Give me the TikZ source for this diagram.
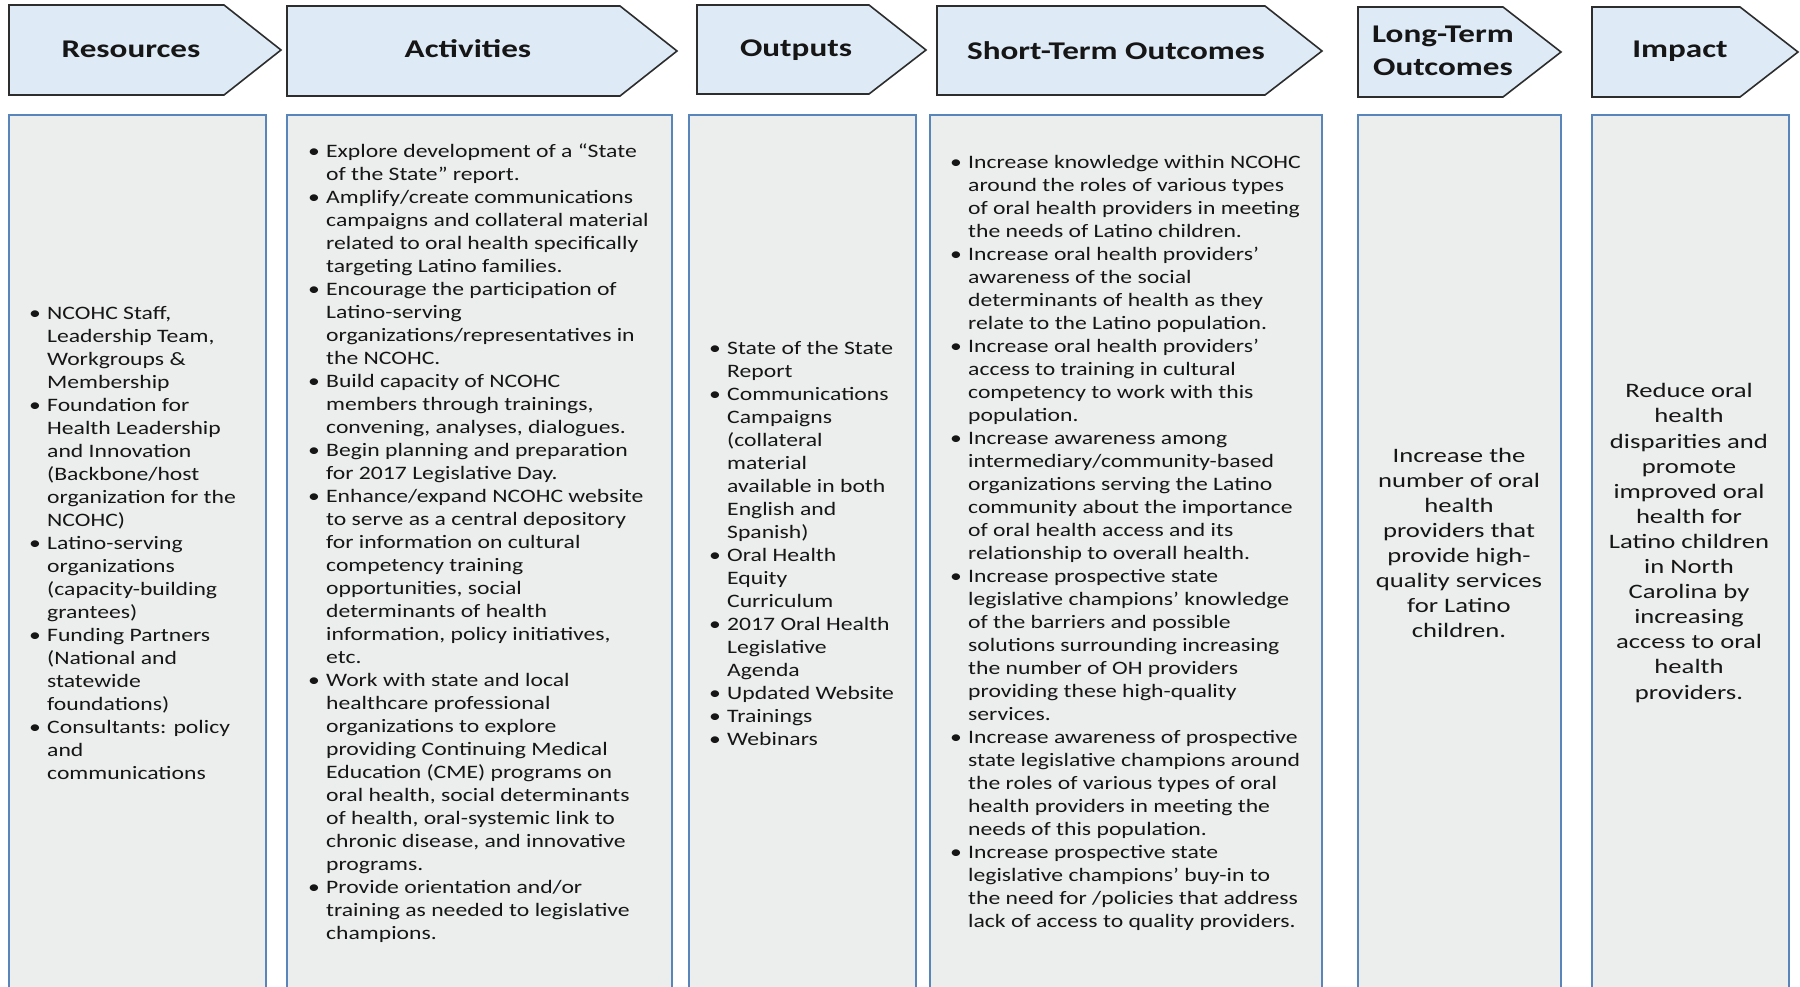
\documentclass[tikz,border=0pt]{standalone}
\usepackage{fontspec}
\setmainfont[FakeStretch=1.245]{Carlito}
\newfontfamily\widefont[FakeStretch=1.3]{Carlito}
\definecolor{hdrfill}{RGB}{222,235,247}
\definecolor{hdrdraw}{RGB}{45,45,45}
\definecolor{boxfill}{RGB}{236,237,237}
\definecolor{boxdraw}{RGB}{88,134,186}
\definecolor{txt}{RGB}{22,22,22}
\newcommand\bitem{\makebox[18pt][l]{\textbullet}}
\newcommand\cont{\hspace*{18pt}}
\tikzset{
  hdr/.style={fill=hdrfill, draw=hdrdraw, line width=1.6pt, line join=miter},
  cbox/.style={fill=boxfill, draw=boxdraw, line width=1.4pt},
  htext/.style={font=\widefont\fontsize{25.5}{33}\selectfont\bfseries, text=txt, inner sep=0pt, align=center},
  btext/.style={font=\fontsize{19}{23}\selectfont, text=txt, inner sep=0pt, align=left, anchor=west},
  ctext/.style={font=\widefont\fontsize{20.5}{25.1}\selectfont, text=txt, inner sep=0pt, align=center}
}
\begin{document}
\begin{tikzpicture}[x=1pt,y=-1pt]
\useasboundingbox (0,0) rectangle (1800,987);
\clip (0,0) rectangle (1800,987);
\fill[white] (0,0) rectangle (1800,987);
% header arrows
\draw[hdr] (9,5) -- (224,5) -- (281,50) -- (224,95) -- (9,95) -- cycle;
\draw[hdr] (287,6) -- (620,6) -- (677,51) -- (620,96) -- (287,96) -- cycle;
\draw[hdr] (697,5) -- (869,5) -- (926,50) -- (869,94) -- (697,94) -- cycle;
\draw[hdr] (937,6) -- (1265,6) -- (1322,51) -- (1265,95) -- (937,95) -- cycle;
\draw[hdr] (1358,7) -- (1503,7) -- (1561,52) -- (1503,97) -- (1358,97) -- cycle;
\draw[hdr] (1592,7) -- (1740,7) -- (1798,52) -- (1740,97) -- (1592,97) -- cycle;
\node[htext] (hRes) at (131,49) {Resources};
\node[htext] (hAct) at (468,49) {Activities};
\node[htext] (hOut) at (796,50) {Outputs};
\node[htext] (hShort) at (1116,51) {Short-Term Outcomes};
\node[htext] (hLong) at (1443,51) {Long-Term\\Outcomes};
\node[htext] (hImp) at (1680,51) {Impact};
% content boxes
\draw[cbox] (9,115) rectangle (266,1010);
\draw[cbox] (287,115) rectangle (672,1010);
\draw[cbox] (689,115) rectangle (916,1010);
\draw[cbox] (930,115) rectangle (1322,1010);
\draw[cbox] (1358,115) rectangle (1561,1010);
\draw[cbox] (1592,115) rectangle (1789,1010);
% texts
\node[btext] (tRes) at (29,543) {\bitem NCOHC Staff,\\ \cont Leadership Team,\\ \cont Workgroups \&\\ \cont Membership\\
\bitem Foundation for\\ \cont Health Leadership\\ \cont and Innovation\\ \cont (Backbone/host\\ \cont organization for the\\ \cont NCOHC)\\
\bitem Latino-serving\\ \cont organizations\\ \cont (capacity-building\\ \cont grantees)\\
\bitem Funding Partners\\ \cont (National and\\ \cont statewide\\ \cont foundations)\\
\bitem Consultants: policy\\ \cont and\\ \cont communications};
\node[btext] (tAct) at (308,543) {\bitem Explore development of a “State\\ \cont of the State” report.\\
\bitem Amplify/create communications\\ \cont campaigns and collateral material\\ \cont related to oral health specifically\\ \cont targeting Latino families.\\
\bitem Encourage the participation of\\ \cont Latino-serving\\ \cont organizations/representatives in\\ \cont the NCOHC.\\
\bitem Build capacity of NCOHC\\ \cont members through trainings,\\ \cont convening, analyses, dialogues.\\
\bitem Begin planning and preparation\\ \cont for 2017 Legislative Day.\\
\bitem Enhance/expand NCOHC website\\ \cont to serve as a central depository\\ \cont for information on cultural\\ \cont competency training\\ \cont opportunities, social\\ \cont determinants of health\\ \cont information, policy initiatives,\\ \cont etc.\\
\bitem Work with state and local\\ \cont healthcare professional\\ \cont organizations to explore\\ \cont providing Continuing Medical\\ \cont Education (CME) programs on\\ \cont oral health, social determinants\\ \cont of health, oral-systemic link to\\ \cont chronic disease, and innovative\\ \cont programs.\\
\bitem Provide orientation and/or\\ \cont training as needed to legislative\\ \cont champions.};
\node[btext] (tOut) at (709,543) {\bitem State of the State\\ \cont Report\\
\bitem Communications\\ \cont Campaigns\\ \cont (collateral\\ \cont material\\ \cont available in both\\ \cont English and\\ \cont Spanish)\\
\bitem Oral Health\\ \cont Equity\\ \cont Curriculum\\
\bitem 2017 Oral Health\\ \cont Legislative\\ \cont Agenda\\
\bitem Updated Website\\
\bitem Trainings\\
\bitem Webinars};
\node[btext] (tShort) at (950,543) {\bitem Increase knowledge within NCOHC\\ \cont around the roles of various types\\ \cont of oral health providers in meeting\\ \cont the needs of Latino children.\\
\bitem Increase oral health providers’\\ \cont awareness of the social\\ \cont determinants of health as they\\ \cont relate to the Latino population.\\
\bitem Increase oral health providers’\\ \cont access to training in cultural\\ \cont competency to work with this\\ \cont population.\\
\bitem Increase awareness among\\ \cont intermediary/community-based\\ \cont organizations serving the Latino\\ \cont community about the importance\\ \cont of oral health access and its\\ \cont relationship to overall health.\\
\bitem Increase prospective state\\ \cont legislative champions’ knowledge\\ \cont of the barriers and possible\\ \cont solutions surrounding increasing\\ \cont the number of OH providers\\ \cont providing these high-quality\\ \cont services.\\
\bitem Increase awareness of prospective\\ \cont state legislative champions around\\ \cont the roles of various types of oral\\ \cont health providers in meeting the\\ \cont needs of this population.\\
\bitem Increase prospective state\\ \cont legislative champions’ buy-in to\\ \cont the need for /policies that address\\ \cont lack of access to quality providers.};
\node[ctext] (tLong) at (1459,543) {Increase the\\ number of oral\\ health\\ providers that\\ provide high-\\ quality services\\ for Latino\\ children.};
\node[ctext] (tImp) at (1689,543) {Reduce oral\\ health\\ disparities and\\ promote\\ improved oral\\ health for\\ Latino children\\ in North\\ Carolina by\\ increasing\\ access to oral\\ health\\ providers.};
\end{tikzpicture}
\end{document}
